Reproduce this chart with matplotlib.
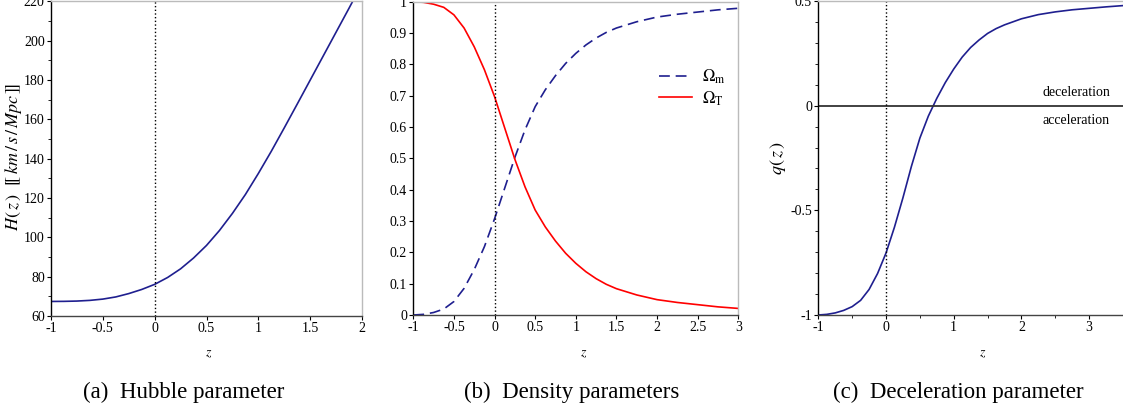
import numpy as np
import matplotlib
matplotlib.use("Agg")
from matplotlib import pyplot as plt
from matplotlib.ticker import MultipleLocator

plt.rcParams['font.family'] = 'serif'
plt.rcParams['font.serif'] = ['Liberation Serif', 'DejaVu Serif']
plt.rcParams['mathtext.fontset'] = 'stix'
plt.rcParams['axes.unicode_minus'] = False

# (a) Hubble parameter
z_h = [-1.0, -0.875, -0.75, -0.625, -0.5, -0.375, -0.25, -0.125, 0.0, 0.125,
       0.25, 0.375, 0.5, 0.625, 0.75, 0.875, 1.0, 1.125, 1.25, 1.375, 1.5,
       1.625, 1.75, 1.875, 1.95]
hubble = [67.4, 67.45, 67.6, 67.95, 68.6, 69.7, 71.4, 73.5, 76.1, 79.6,
          84.0, 89.5, 95.9, 103.5, 112.2, 121.8, 132.5, 143.8, 155.7, 167.8,
          180.0, 192.2, 204.4, 216.6, 224.0]

# (b) density parameters
z_d = [-1.0, -0.875, -0.75, -0.625, -0.5, -0.375, -0.25, -0.125, 0.0, 0.125,
       0.25, 0.375, 0.5, 0.625, 0.75, 0.875, 1.0, 1.125, 1.25, 1.375, 1.5,
       1.75, 2.0, 2.25, 2.5, 2.75, 3.0]
omega_t = [1.0, 0.998, 0.992, 0.982, 0.958, 0.916, 0.856, 0.783, 0.697, 0.597,
           0.497, 0.409, 0.335, 0.281, 0.236, 0.197, 0.165, 0.138, 0.116,
           0.098, 0.084, 0.064, 0.049, 0.040, 0.033, 0.026, 0.021]
omega_m = [0.0, 0.002, 0.008, 0.019, 0.043, 0.085, 0.145, 0.218, 0.307, 0.405,
           0.503, 0.591, 0.665, 0.719, 0.764, 0.803, 0.835, 0.862, 0.884,
           0.902, 0.916, 0.936, 0.951, 0.960, 0.967, 0.974, 0.979]

# (c) deceleration parameter
z_q = [-1.0, -0.875, -0.75, -0.625, -0.5, -0.375, -0.25, -0.125, 0.0, 0.125,
       0.25, 0.375, 0.5, 0.625, 0.75, 0.875, 1.0, 1.125, 1.25, 1.375, 1.5,
       1.625, 1.75, 2.0, 2.25, 2.5, 2.75, 3.0, 3.25, 3.5]
q_dec = [-1.0, -0.997, -0.99, -0.978, -0.96, -0.93, -0.878, -0.802, -0.704,
         -0.58, -0.44, -0.29, -0.155, -0.05, 0.035, 0.11, 0.175, 0.232, 0.278,
         0.314, 0.345, 0.368, 0.386, 0.415, 0.435, 0.448, 0.458, 0.465,
         0.472, 0.478]

captions = ['(a)  Hubble parameter', '(b)  Density parameters',
            '(c)  Deceleration parameter']

navy = '#1f1f8f'
W, H = 1123.0, 411.0

fig = plt.figure(figsize=(11.23, 4.11), dpi=100)
ax1 = fig.add_axes([51 / W, (H - 316) / H, 311 / W, 314.5 / H])
ax2 = fig.add_axes([413.3 / W, (H - 315) / H, 325 / W, 313.3 / H])
ax3 = fig.add_axes([818.3 / W, (H - 315) / H, 304.7 / W, 314 / H])


def style(ax):
    ax.spines['left'].set_color('black')
    ax.spines['bottom'].set_color('#444444')
    ax.spines['top'].set_color('#bbbbbb')
    ax.spines['right'].set_color('#bbbbbb')
    for s in ax.spines.values():
        s.set_linewidth(1.0)
    ax.tick_params(direction='out', length=3, width=0.8, labelsize=10, pad=1.5)
    ax.tick_params(which='minor', direction='out', length=2, width=0.6)
    ax.axvline(0, color='black', ls=':', lw=1.0)


# panel a
ax1.plot(z_h, hubble, color=navy, lw=1.2)
ax1.set_xlim(-1, 2)
ax1.set_ylim(60, 220)
ax1.yaxis.set_major_locator(MultipleLocator(20))
ax1.yaxis.set_minor_locator(MultipleLocator(10))
ax1.set_xticks([-1, -0.5, 0, 0.5, 1, 1.5, 2], ['-1', '-0.5', '0', '0.5', '1', '1.5', '2'])
style(ax1)
ax1.set_ylabel(r'$H\left(\,z\,\right)\ \ [\![\,km\,/\,s\,/\,Mpc\,]\!]$', fontsize=13)
ax1.yaxis.set_label_coords(-0.088, 0.506)
ax1.set_xlabel(r'$z$', fontsize=10)
ax1.xaxis.set_label_coords(0.508, -0.099)

# panel b
ax2.plot(z_d, omega_m, color=navy, lw=1.2, dashes=(6.5, 3.5), label=r'$\Omega_{\mathrm{m}}$')
ax2.plot(z_d, omega_t, color='red', lw=1.2, label=r'$\Omega_{\mathrm{T}}$')
ax2.set_xlim(-1, 3)
ax2.set_ylim(0, 1)
ax2.set_xticks([-1, -0.5, 0, 0.5, 1, 1.5, 2, 2.5, 3],
               ['-1', '-0.5', '0', '0.5', '1', '1.5', '2', '2.5', '3'])
yt = np.round(np.arange(0, 1.01, 0.1), 1)
ax2.set_yticks(yt, ['0' if v == 0 else ('1' if v == 1 else '%.1f' % v) for v in yt])
style(ax2)
ax2.legend(loc='upper left', bbox_to_anchor=(0.755, 0.79), frameon=False,
           fontsize=12, handlelength=2.0, borderpad=0, borderaxespad=0,
           labelspacing=0.2, handletextpad=0.6)
ax2.set_xlabel(r'$z$', fontsize=10)
ax2.xaxis.set_label_coords(0.525, -0.102)

# panel c
ax3.plot(z_q, q_dec, color=navy, lw=1.2)
ax3.axhline(0, color='#333333', lw=1.3)
ax3.set_xlim(-1, 3.5)
ax3.set_ylim(-1, 0.5)
ax3.set_xticks([-1, 0, 1, 2, 3], ['-1', '0', '1', '2', '3'])
ax3.xaxis.set_minor_locator(MultipleLocator(0.5))
ax3.set_yticks([-1, -0.5, 0, 0.5], ['-1', '-0.5', '0', '0.5'])
ax3.yaxis.set_minor_locator(MultipleLocator(0.1))
style(ax3)
ax3.spines['right'].set_visible(False)
ax3.text(2.81, 0.0645, 'deceleration', ha='center', va='center', fontsize=10)
ax3.text(2.81, -0.072, 'acceleration', ha='center', va='center', fontsize=10)
ax3.set_ylabel(r'$q\left(\,z\,\right)$', fontsize=13)
ax3.yaxis.set_label_coords(-0.1, 0.5)
ax3.set_xlabel(r'$z$', fontsize=10)
ax3.xaxis.set_label_coords(0.54, -0.102)

for cx, txt in zip([184, 572, 958], captions):
    fig.text(cx / W, (H - 392) / H, txt, ha='center', va='center', fontsize=16.5)

fig.savefig('out.png', dpi=100)
